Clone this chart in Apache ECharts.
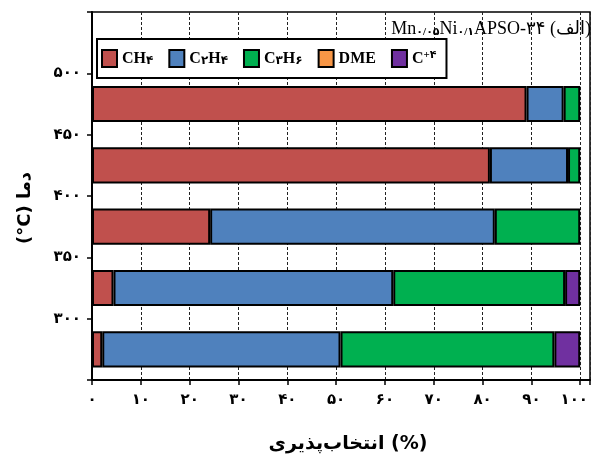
<!DOCTYPE html>
<html>
<head>
<meta charset="utf-8">
<script src="https://cdn.jsdelivr.net/npm/echarts@6/dist/echarts.min.js"></script>
<style>html,body{margin:0;padding:0;background:#fff}#c{width:593px;height:455px}</style>
</head>
<body>
<div id="c"></div>
<script>
// categories bottom -> top (last band is empty, holds the legend)
const categories = ['300', '350', '400', '450', '500', ''];
const ch4  = [2.1, 4.4, 24.2, 81.5, 89.0];
const c2h4 = [48.8, 57.3, 58.3, 16.0, 7.6];
const c3h6 = [43.8, 35.2, 17.5, 2.5, 3.4];
const dme  = [0, 0, 0, 0, 0];
const c4p  = [5.3, 3.1, 0, 0, 0];
const xTickValues = [0, 10, 20, 30, 40, 50, 60, 70, 80, 90, 100];
const yTickValues = [300, 350, 400, 450, 500];
const seriesNames = ['CH4', 'C2H4', 'C3H6', 'DME', 'C4+'];
const seriesColors = ['#C0504D', '#4F81BD', '#00B050', '#F79646', '#7030A0'];
const seriesData = [ch4, c2h4, c3h6, dme, c4p];

const fa = s => String(s).replace(/[0-9]/g, d => '۰۱۲۳۴۵۶۷۸۹'[+d]);
const serif = "'Liberation Serif', 'DejaVu Serif', 'DejaVu Sans'";
const faFont = "'DejaVu Sans'";

const legendLabels = {
  'CH4': 'CH{s|۴}',
  'C2H4': 'C{s|۲}H{s|۴}',
  'C3H6': 'C{s|۳}H{s|۶}',
  'DME': 'DME',
  'C4+': 'C{p|+۴}'
};

const chart = echarts.init(document.getElementById('c'), null, {renderer: 'canvas'});
const option = {
  animation: false,
  backgroundColor: '#fff',
  title: {
    text: '{n|Mn}{s|۰/۰۵}{n|Ni}{s|۰/۱}{n|APSO-۳۴ (الف)}',
    right: 2, top: 18, padding: 0,
    textStyle: {
      rich: {
        n: {fontFamily: serif, fontSize: 18, color: '#000', fontWeight: 'normal', verticalAlign: 'bottom', lineHeight: 20},
        s: {fontFamily: serif, fontSize: 11, color: '#000', verticalAlign: 'bottom', lineHeight: 14, padding: [6, 0, 0, 0]}
      }
    }
  },
  legend: {
    left: 97, top: 39,
    data: seriesNames,
    orient: 'horizontal',
    itemWidth: 15, itemHeight: 17,
    itemGap: 15,
    padding: [10, 10, 10, 4],
    borderColor: '#000', borderWidth: 2,
    backgroundColor: '#fff',
    icon: 'rect',
    formatter: n => legendLabels[n],
    textStyle: {
      fontFamily: serif, fontSize: 16, fontWeight: 'bold', color: '#000',
      rich: {
        s: {fontFamily: serif, fontSize: 12, fontWeight: 'bold', padding: [5, 0, 0, 0]},
        p: {fontFamily: serif, fontSize: 11, fontWeight: 'bold', padding: [0, 0, 7, 0]}
      }
    }
  },
  grid: {
    left: 92, right: 3, top: 12, bottom: 75,
    outerBoundsMode: 'none', containLabel: false,
    show: true, borderColor: '#000', borderWidth: 1.5, backgroundColor: 'transparent'
  },
  xAxis: {
    type: 'value', min: 0, max: 102, interval: 10,
    name: 'انتخاب‌پذیری (%)', nameLocation: 'middle', nameGap: 55,
    nameTextStyle: {fontFamily: faFont, fontSize: 19, fontWeight: 'bold', color: '#000', padding: [0, 0, 0, 14]},
    axisLine: {show: true, lineStyle: {color: '#000', width: 2}},
    axisTick: {show: true, length: 5, lineStyle: {color: '#000', width: 1.5}},
    axisLabel: {
      margin: 13, fontFamily: faFont, fontSize: 15, fontWeight: 'bold', color: '#000',
      formatter: v => (v % 10 === 0 && v < 100) ? fa(v) : (v === 100 ? '{r|' + fa(v) + '}' : ''),
      rich: {r: {fontFamily: faFont, fontSize: 15, fontWeight: 'bold', color: '#000', padding: [0, 12, 0, 0]}}
    },
    splitLine: {show: true, lineStyle: {color: '#222', width: 1, type: [3, 2]}}
  },
  yAxis: [{
    type: 'category', data: categories,
    axisLine: {show: false}, axisTick: {show: false}, axisLabel: {show: false},
    splitLine: {show: false}
  }, {
    type: 'value', min: 250, max: 550, interval: 50, position: 'left',
    name: '(°C) دما', nameLocation: 'middle', nameGap: 58, nameRotate: 90,
    nameTextStyle: {fontFamily: faFont, fontSize: 18, fontWeight: 'bold', color: '#000', padding: [0, 24, 0, 0]},
    axisLine: {show: true, onZero: false, lineStyle: {color: '#000', width: 2}},
    axisTick: {show: true, length: 5, lineStyle: {color: '#000', width: 1.5}},
    axisLabel: {
      margin: 11, fontFamily: faFont, fontSize: 15, fontWeight: 'bold', color: '#000',
      formatter: v => yTickValues.indexOf(v) >= 0 ? fa(v) : ''
    },
    splitLine: {show: false}
  }],
  series: seriesNames.map((name, i) => ({
    name: name,
    type: 'bar',
    stack: 'total',
    yAxisIndex: 0,
    barWidth: '59%',
    data: seriesData[i].map(v => v === 0 ? null : v),
    itemStyle: {color: seriesColors[i], borderColor: '#000', borderWidth: 2}
  }))
};
chart.setOption(option);
</script>
</body>
</html>
